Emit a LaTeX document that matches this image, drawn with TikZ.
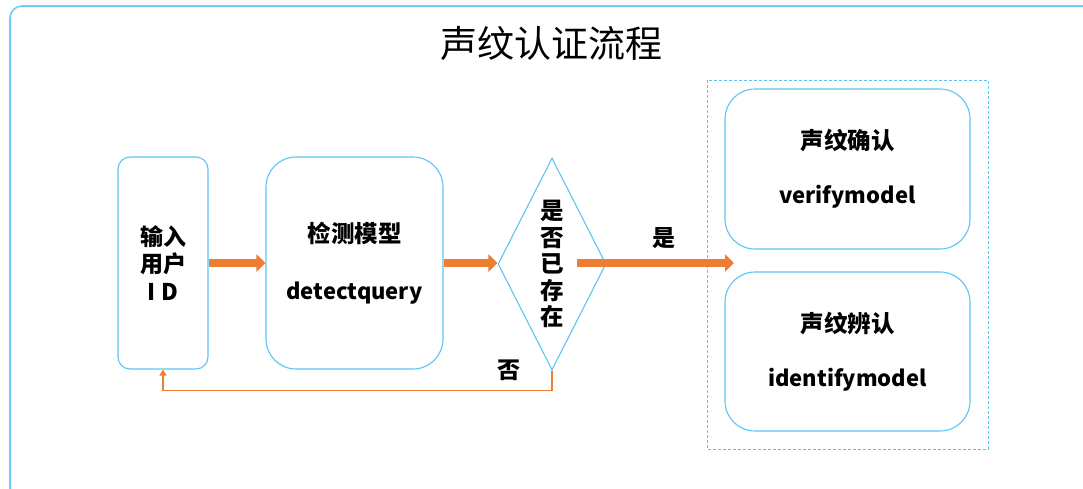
\documentclass[tikz,border=0pt]{standalone}
\usepackage{fontspec}
\setmainfont{Noto Sans CJK SC}
\usetikzlibrary{arrows.meta,shapes.geometric}
\definecolor{skyline}{RGB}{91, 197, 242}
\definecolor{framesky}{RGB}{110, 206, 250}
\definecolor{carrot}{RGB}{237, 125, 49}
\newcommand\zhbig{\fontsize{23.5}{27.5}\selectfont}

\tikzset{
  stepbox/.style={draw=skyline, line width=1.1pt, rounded corners=#1, align=center,
    inner sep=0pt, font=\fontsize{22}{27.5}\selectfont\bfseries},
  checkbox/.style={diamond, draw=skyline, line width=1.1pt, shape aspect=0.5, inner sep=0pt,
    align=center, font=\fontsize{23.5}{26.5}\selectfont\bfseries},
  flowarrow/.style={draw=carrot, line width=8pt, -{Triangle[length=9pt, width=17pt]}},
  backarrow/.style={draw=carrot, line width=1.5pt, -{Triangle[length=6pt, width=7pt]}},
  lbl/.style={font=\fontsize{23}{24}\selectfont\bfseries, inner sep=0pt}
}

\begin{document}
\begin{tikzpicture}[x=1pt, y=-1pt]
            \useasboundingbox                                   (0, 0) rectangle (1083, 488);
            \draw[framesky, line width=1.6pt, rounded corners=12pt] (10, 6) rectangle (1110, 510);
            \node[font=\fontsize{37}{40}\selectfont]  (title)    at (551, 43)    {声纹认证流程};
            % main flow
            \node[stepbox=12pt, minimum width=90pt,  minimum height=212pt,
                  font=\fontsize{23}{27.5}\selectfont\bfseries]            (input)  at (163, 263)   {输入\\用户\\I D};
            \node[stepbox=30pt, minimum width=177pt, minimum height=212pt] (detect) at (354.5, 263) {{\zhbig 检测模型}\\[29.5pt]detectquery};
            \node[checkbox, minimum width=108pt, minimum height=212pt]    (exist)  at (552, 264)   {是\\否\\已\\存\\在};
            % models
            \draw[skyline, line width=0.9pt, dashed, dash pattern=on 3pt off 2pt] (707, 80) rectangle (988, 449);
            \node[stepbox=30pt, minimum width=245pt, minimum height=160pt] (verify)   at (847.5, 169)   {{\zhbig 声纹确认}\\[26.5pt]verifymodel};
            \node[stepbox=30pt, minimum width=245pt, minimum height=159pt] (identify) at (847.5, 351.5) {{\zhbig 声纹辨认}\\[26.5pt]identifymodel};
            \coordinate (yesend) at (734, 263);
            % arrows
            \draw[flowarrow] (input.east)  -- (detect.west |- input.east);
            \draw[flowarrow] (detect.east) -- (exist.west |- detect.east);
            \draw[flowarrow] ([xshift=25pt]exist.center |- yesend) -- (yesend);
            \draw[backarrow] (exist.south) -- ++(0, 20) -| (input.south);
            \node[lbl] (yes) at (664, 238) {是};
            \node[lbl] (no)  at (509, 370) {否};
\end{tikzpicture}
\end{document}
